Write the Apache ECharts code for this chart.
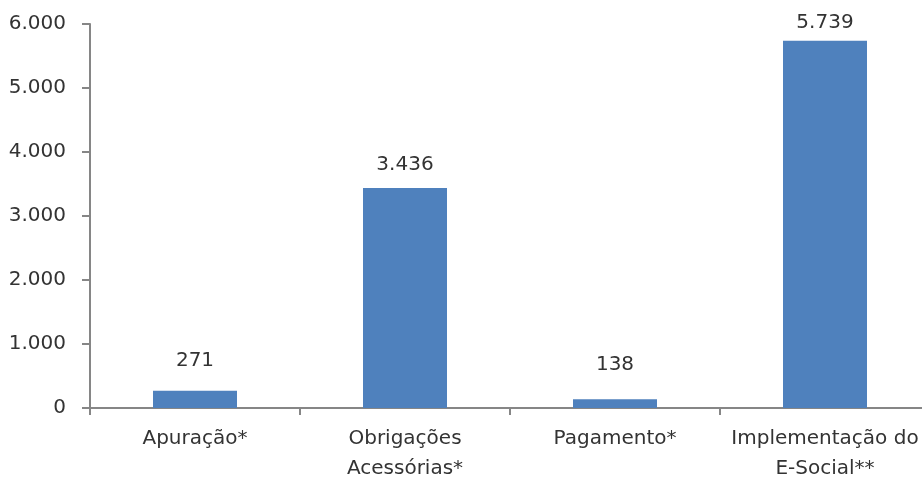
<!DOCTYPE html>
<html><head><meta charset="utf-8">
<script src="https://cdn.jsdelivr.net/npm/echarts@6/dist/echarts.min.js"></script>
<style>html,body{margin:0;padding:0;background:#fff;overflow:hidden}#c{width:930px;height:480px}</style>
</head><body><div id="c"></div>
<script>
const categories = ['Apuração*', 'Obrigações\nAcessórias*', 'Pagamento*', 'Implementação do\nE-Social**'];
const values = [271, 3436, 138, 5739];
const labelDistances = [20, 13, 24, 8];

function fmt(v){ return String(v).replace(/\B(?=(\d{3})+(?!\d))/g, '.'); }
const font = 'DejaVu Sans';
const chart = echarts.init(document.getElementById('c'), null, {renderer:'canvas'});
chart.setOption({
  animation:false,
  grid:{left:90, right:0, top:24, bottom:72, containLabel:false, outerBoundsMode:'none'},
  xAxis:{type:'category', data:categories,
    axisLine:{lineStyle:{color:'#868686', width:2}},
    axisTick:{show:true, length:7, lineStyle:{color:'#868686', width:2}},
    axisLabel:{interval:0, color:'#333', fontFamily:font, fontSize:20, margin:16, lineHeight:30}},
  yAxis:{type:'value', min:0, max:6000, interval:1000,
    axisLine:{show:true, lineStyle:{color:'#868686', width:2}},
    axisTick:{show:true, length:8, lineStyle:{color:'#868686', width:2}},
    splitLine:{show:false},
    axisLabel:{color:'#333', fontFamily:font, fontSize:20, margin:24, formatter:v=>fmt(v)}},
  series:[{type:'bar', barWidth:84,
    data: values.map((v,i)=>({value:v, label:{distance:labelDistances[i]}})),
    itemStyle:{color:'#4F81BD'},
    label:{show:true, position:'top', color:'#333', fontFamily:font, fontSize:20, formatter:p=>fmt(p.value)}}]
});
</script></body></html>
